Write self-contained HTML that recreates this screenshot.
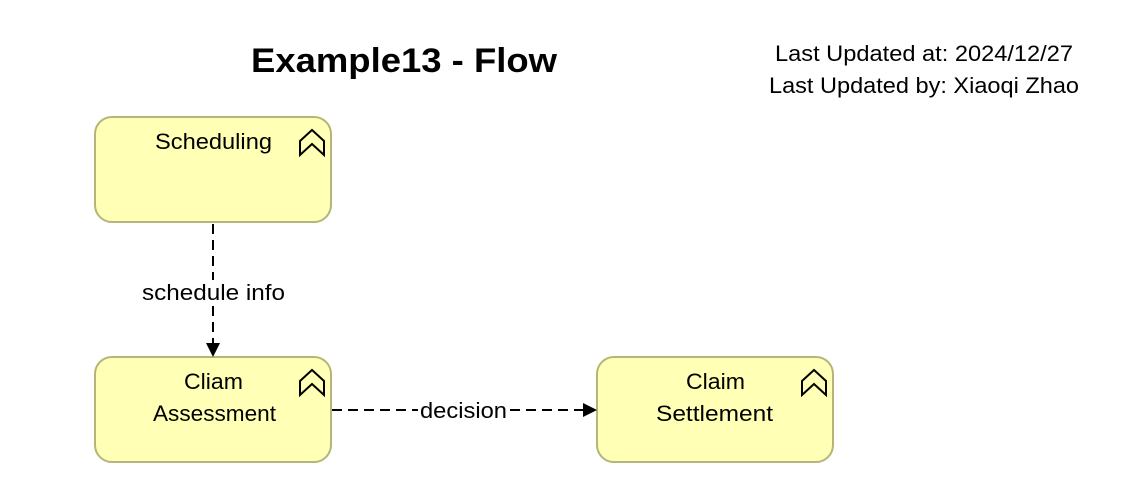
<!DOCTYPE html>
<html><head><meta charset="utf-8"><style>
html,body{margin:0;padding:0;background:#fff;width:1130px;height:486px;overflow:hidden}
svg text{font-family:"Liberation Sans","DejaVu Sans",sans-serif;fill:#000}
</style></head><body>
<svg width="1130" height="486" viewBox="0 0 1130 486" xmlns="http://www.w3.org/2000/svg">
<text x="251" y="72" font-size="34" font-weight="bold" textLength="306" lengthAdjust="spacingAndGlyphs">Example13 - Flow</text>
<text x="775" y="61" font-size="22" textLength="298" lengthAdjust="spacingAndGlyphs">Last Updated at: 2024/12/27</text>
<text x="769" y="93" font-size="22" textLength="310" lengthAdjust="spacingAndGlyphs">Last Updated by: Xiaoqi Zhao</text>
<g fill="#ffffb5" stroke="#b5b57a" stroke-width="2">
<rect x="95" y="117" width="236" height="105" rx="17"/>
<rect x="95" y="357" width="236" height="105" rx="17"/>
<rect x="597" y="357" width="236" height="105" rx="17"/>
</g>
<g fill="none" stroke="#000" stroke-width="2" stroke-linejoin="miter">
<path d="M300 141 L312 130 L324 141 L324 155 L312 144 L300 155 Z"/>
<path d="M300 381 L312 370 L324 381 L324 395 L312 384 L300 395 Z"/>
<path d="M802 381 L814 370 L826 381 L826 395 L814 384 L802 395 Z"/>
</g>
<text x="155" y="149" font-size="22" textLength="117" lengthAdjust="spacingAndGlyphs">Scheduling</text>
<text x="184" y="389" font-size="22" textLength="59" lengthAdjust="spacingAndGlyphs">Cliam</text>
<text x="153" y="421" font-size="22" textLength="123" lengthAdjust="spacingAndGlyphs">Assessment</text>
<text x="686" y="389" font-size="22" textLength="59" lengthAdjust="spacingAndGlyphs">Claim</text>
<text x="656" y="421" font-size="22" textLength="117" lengthAdjust="spacingAndGlyphs">Settlement</text>
<g stroke="#000" stroke-width="2" stroke-dasharray="10,6" fill="none">
<line x1="213" y1="224" x2="213" y2="280"/>
<line x1="213" y1="306" x2="213" y2="343"/>
<line x1="332" y1="410" x2="418" y2="410"/>
<line x1="510" y1="410" x2="584" y2="410"/>
</g>
<path d="M206 343 L220 343 L213 357 Z" fill="#000"/>
<path d="M583 403 L583 417 L597 410 Z" fill="#000"/>
<text x="142" y="300" font-size="22" textLength="143" lengthAdjust="spacingAndGlyphs">schedule info</text>
<text x="420" y="418" font-size="22" textLength="87" lengthAdjust="spacingAndGlyphs">decision</text>
</svg>
</body></html>
